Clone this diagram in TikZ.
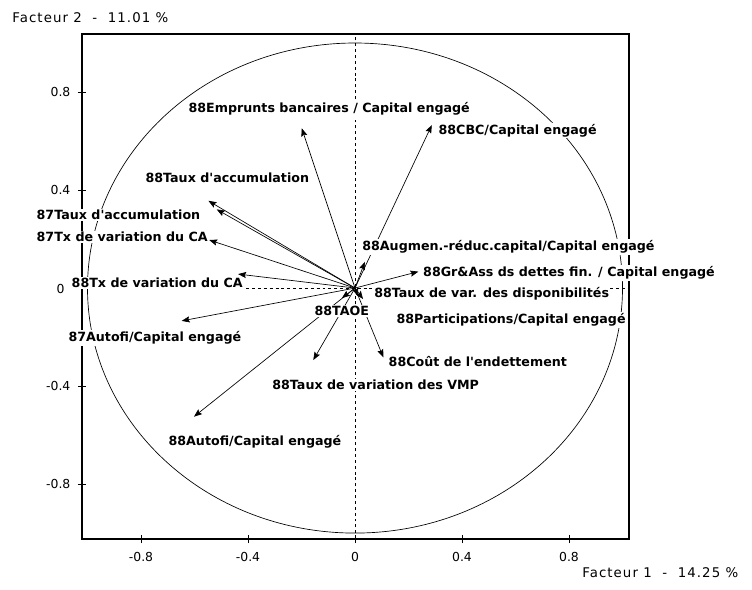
\documentclass[tikz,border=0pt]{standalone}
\usepackage{fontspec}
\setmainfont{DejaVu Sans}
\usetikzlibrary{arrows.meta}

\begin{document}
\begin{tikzpicture}[x=200.6pt, y=183.75pt,
  vec/.style={-{Stealth[length=6pt, width=4.6pt, inset=1pt]}, line width=0.5pt},
  varlabel/.style={anchor=west, fill=white, inner sep=1pt, font=\bfseries\fontsize{9.5}{11}\selectfont},
  ticklabel/.style={font=\fontsize{9.3}{11}\selectfont, inner sep=1pt},
  axistitle/.style={anchor=west, inner sep=0pt, font=\fontsize{10}{12}\selectfont\addfontfeatures{LetterSpace=8}},
  axisline/.style={dash pattern=on 2.2pt off 2.2pt, line width=0.5pt}]
\useasboundingbox (-1.3271,-1.2286) rectangle (1.4841,1.1755);
\coordinate (o) at (0,0);
\coordinate (fsw) at (-1.0206,-1.0245);
\coordinate (fne) at (1.0243,1.0367);
% frame, circle and axes
\draw[line width=0.9pt] (fsw) rectangle (fne);
\draw[line width=0.5pt] (o) ellipse [x radius=1, y radius=1];
\draw[axisline] (0,-1.0245) -- (0,1.0367);
\draw[axisline] (-1.0206,0) -- (1.0243,0);
\foreach \v in {-0.8,-0.4,0,0.4,0.8} {
  \draw[line width=0.6pt] (\v,-1.0408) -- (\v,-1.0082);
  \draw[line width=0.6pt] (-1.0356,\v) -- (-1.0056,\v);
}
\foreach \v/\t in {-0.8/-0.8,-0.4/-0.4,0/0,0.4/0.4,0.8/0.8}
  \node[ticklabel, anchor=north] at (\v,-1.072) {\t};
\foreach \v/\t in {0.8/0.8,0.4/0.4,-0.4/-0.4,-0.8/-0.8}
  \node[ticklabel, anchor=east] at (-1.058,\v) {\t};
\node[ticklabel, anchor=east] (y0) at (-1.080,-0.004) {0};
\node[axistitle] (f2) at (-1.282,1.102) {Facteur 2\ \ -\ \ 11.01 \%};
\node[axistitle] (f1) at (0.8486,-1.163) {Facteur 1\ \ -\ \ 14.25 \%};
% variable tips
\coordinate (t1) at (-0.199,0.652);
\coordinate (t2) at (0.287,0.665);
\coordinate (t3) at (-0.548,0.356);
\coordinate (t4) at (-0.517,0.321);
\coordinate (t5) at (-0.545,0.196);
\coordinate (t6) at (-0.437,0.057);
\coordinate (t7) at (-0.648,-0.134);
\coordinate (t8) at (-0.602,-0.525);
\coordinate (t9) at (-0.156,-0.294);
\coordinate (t10) at (0.106,-0.283);
\coordinate (t11) at (0.037,0.107);
\coordinate (t12) at (0.237,0.067);
\coordinate (t13) at (0.030,-0.045);
\coordinate (t14) at (-0.049,-0.041);
\coordinate (t15) at (0.011,-0.033);
\foreach \i in {1,...,15}
  \draw[vec] (o) -- (t\i);
% variable labels
\node[varlabel] (l1) at (-0.628,0.731) {88Emprunts bancaires / Capital engagé};
\node[varlabel] (l2) at (0.3065,0.642) {88CBC/Capital engagé};
\node[varlabel] (l3) at (-0.789,0.449) {88Taux d\textquotesingle accumulation};
\node[varlabel] (l4) at (-1.196,0.298) {87Taux d\textquotesingle accumulation};
\node[varlabel] (l5) at (-1.196,0.208) {87Tx de variation du CA};
\node[varlabel] (l6) at (-1.065,0.020) {88Tx de variation du CA};
\node[varlabel] (l7) at (-1.077,-0.204) {87Autofi/Capital engagé};
\node[varlabel] (l8) at (-0.703,-0.627) {88Autofi/Capital engagé};
\node[varlabel] (l9) at (-0.315,-0.396) {88Taux de variation des VMP};
\node[varlabel] (l10) at (0.120,-0.301) {88Coût de l\textquotesingle endettement};
\node[varlabel] (l11) at (0.0213,0.167) {88Augmen.-réduc.capital/Capital engagé};
\node[varlabel] (l12) at (0.249,0.062) {88Gr\&Ass ds dettes fin. / Capital engagé};
\node[varlabel] (l13) at (0.066,-0.022) {88Taux de var. des disponibilités};
\node[varlabel] (l14) at (-0.157,-0.093) {88TAOE};
\node[varlabel] (l15) at (0.1495,-0.131) {88Participations/Capital engagé};
\end{tikzpicture}
\end{document}
